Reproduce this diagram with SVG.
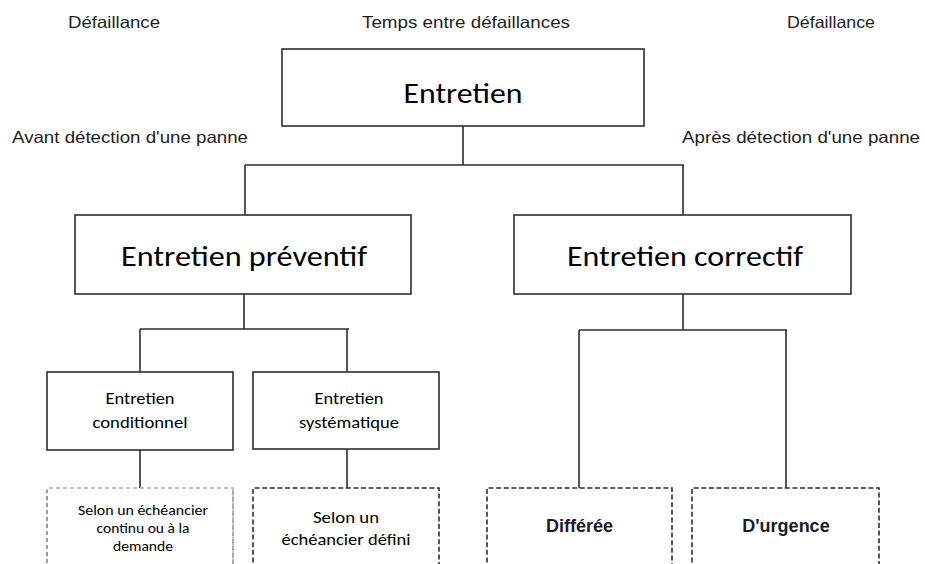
<svg xmlns="http://www.w3.org/2000/svg" width="925" height="564" viewBox="0 0 925 564">
  <style>
    .box { fill: #ffffff; stroke: #2e2e2e; stroke-width: 1.6; }
    .dash { fill: none; stroke: #2e2e2e; stroke-width: 1.6; stroke-dasharray: 5 2.6; }
    .dashlight { fill: none; stroke: #8a8a8a; stroke-width: 1.4; stroke-dasharray: 4 3; }
    .conn { fill: none; stroke: #2e2e2e; stroke-width: 1.6; }
    .lbl { font-family: "Liberation Sans", Arial, sans-serif; font-size: 16.5px; fill: #1e1e1e; text-anchor: middle; }
    .big { font-family: Carlito, Lato, "Open Sans", sans-serif; font-size: 28px; fill: #000000; text-anchor: middle; }
    .mid { font-family: Carlito, Lato, "Open Sans", sans-serif; font-size: 16.5px; fill: #000000; text-anchor: middle; }
    .sm { font-family: Carlito, Lato, "Open Sans", sans-serif; font-size: 14.5px; fill: #000000; text-anchor: middle; }
    .bold { font-family: "Liberation Sans", Arial, sans-serif; font-size: 18px; font-weight: bold; fill: #1a1a2e; text-anchor: middle; }
  </style>

  <g id="labels">
    <text class="lbl" x="114" y="28" textLength="92" lengthAdjust="spacingAndGlyphs">Défaillance</text>
    <text class="lbl" x="466" y="28" textLength="208" lengthAdjust="spacingAndGlyphs">Temps entre défaillances</text>
    <text class="lbl" x="831" y="28" textLength="88" lengthAdjust="spacingAndGlyphs">Défaillance</text>
    <text class="lbl" x="130" y="143" textLength="236" lengthAdjust="spacingAndGlyphs">Avant détection d'une panne</text>
    <text class="lbl" x="801" y="143" textLength="238" lengthAdjust="spacingAndGlyphs">Après détection d'une panne</text>
  </g>

  <g id="connectors">
    <path class="conn" d="M463,126 V165 M245,165 H684 M245,165 V215 M683,165 V215"/>
    <path class="conn" d="M244,294 V329 M140,329 H349 M140,329 V372 M347,329 V372"/>
    <path class="conn" d="M140,450 V488 M347,449 V488"/>
    <path class="conn" d="M683,294 V330 M579,330 H787 M579,330 V488 M786,330 V488"/>
  </g>

  <g id="node-entretien">
    <rect class="box" x="282" y="49" width="362" height="77"/>
    <text class="big" x="463" y="103" textLength="119" lengthAdjust="spacingAndGlyphs">Entretien</text>
  </g>

  <g id="node-preventif">
    <rect class="box" x="75" y="215" width="336" height="79"/>
    <text class="big" x="244" y="266" textLength="246" lengthAdjust="spacingAndGlyphs">Entretien préventif</text>
  </g>

  <g id="node-correctif">
    <rect class="box" x="514" y="215" width="337" height="79"/>
    <text class="big" x="685" y="266" textLength="236" lengthAdjust="spacingAndGlyphs">Entretien correctif</text>
  </g>

  <g id="node-conditionnel">
    <rect class="box" x="47" y="372" width="186" height="78"/>
    <text class="mid" x="140" y="404" textLength="69" lengthAdjust="spacingAndGlyphs">Entretien</text>
    <text class="mid" x="140" y="428" textLength="95" lengthAdjust="spacingAndGlyphs">conditionnel</text>
  </g>

  <g id="node-systematique">
    <rect class="box" x="253" y="372" width="186" height="77"/>
    <text class="mid" x="349" y="404" textLength="69" lengthAdjust="spacingAndGlyphs">Entretien</text>
    <text class="mid" x="349" y="428" textLength="100" lengthAdjust="spacingAndGlyphs">systématique</text>
  </g>

  <g id="node-continu">
    <path class="dashlight" d="M47,570 V488 H233 V570" style="stroke:#b0b0b0"/>
    <path class="dashlight" d="M47,570 V490 M233,490 V570"/>
    <text class="sm" x="143" y="515" textLength="130" lengthAdjust="spacingAndGlyphs">Selon un échéancier</text>
    <text class="sm" x="143" y="533" textLength="93" lengthAdjust="spacingAndGlyphs">continu ou à la</text>
    <text class="sm" x="143" y="551" textLength="60" lengthAdjust="spacingAndGlyphs">demande</text>
  </g>

  <g id="node-defini">
    <path class="dash" d="M253,570 V488 H439 V570"/>
    <text class="mid" x="346" y="523" textLength="66" lengthAdjust="spacingAndGlyphs" style="font-size:16.7px">Selon un</text>
    <text class="mid" x="346" y="545" textLength="129" lengthAdjust="spacingAndGlyphs" style="font-size:16.7px">échéancier défini</text>
  </g>

  <g id="node-differee">
    <path class="dash" d="M487,570 V488 H672 V570"/>
    <text class="bold" x="579.5" y="531.5">Différée</text>
  </g>

  <g id="node-urgence">
    <path class="dash" d="M692,570 V488 H879 V570"/>
    <text class="bold" x="786" y="531.5">D'urgence</text>
  </g>
</svg>
